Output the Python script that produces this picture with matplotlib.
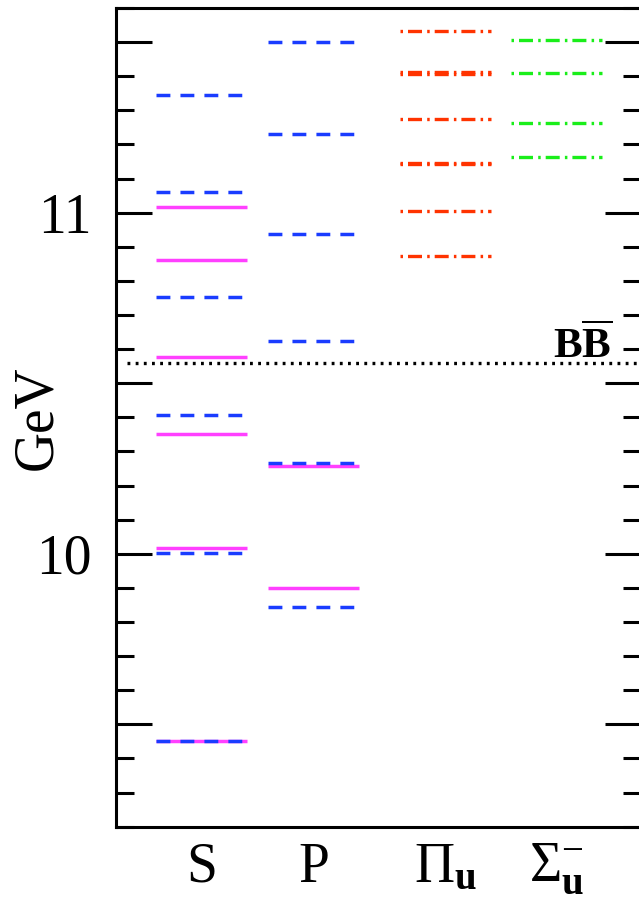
#Bottomonium level diagram: S and P wave levels plus hybrid (Pi_u, Sigma_u-) levels
import matplotlib
matplotlib.use('Agg')
import matplotlib.pyplot as plt
from matplotlib.ticker import MultipleLocator

###Level masses - GeV
#S wave, model (solid magenta)
s_model = [9.450, 10.018, 10.351, 10.576, 10.862, 11.018]
#S wave, blue dashed
s_dash = [9.450, 10.003, 10.406, 10.752, 11.060, 11.345]
#P wave, model (solid magenta)
p_model = [9.899, 10.258]
#P wave, blue dashed
p_dash = [9.843, 10.267, 10.623, 10.938, 11.230, 11.501]
#Hybrid Pi_u levels (two nearly degenerate pairs)
pi_u = [10.872, 11.005, 11.142, 11.146, 11.276, 11.407, 11.411, 11.534]
#Hybrid Sigma_u- levels
sigma_u = [11.162, 11.264, 11.409, 11.507]
#BB threshold
bb_threshold = 10.558

#Column labels and y tick labels
columns = ['S', 'P', r'$\Pi_{\mathbf{u}}$', r'$\Sigma_{\mathbf{u}}^{-}$']
major_ticks = [9.5, 10.0, 10.5, 11.0, 11.5]
major_labels = ['', '10', '', '11', '']

###Layout
col_x = [1.0, 2.0, 3.176, 4.17]
half_w = 0.406

plt.rcParams['font.family'] = ['Liberation Serif', 'DejaVu Serif']
plt.rcParams['mathtext.fontset'] = 'custom'
plt.rcParams['mathtext.rm'] = 'Liberation Serif'
plt.rcParams['mathtext.bf'] = 'Liberation Serif:bold'
plt.rcParams['mathtext.it'] = 'Liberation Serif:italic'

fig = plt.figure(figsize=(6.39, 9.01), dpi=100)
ax = fig.add_axes([0.1808, 0.0825, 0.8224, 0.9086])

blue = '#1a3cff'
magenta = '#ff40ff'
red = '#ff3300'
green = '#1aee1a'

dash_blue = (0, (4.0, 2.9))
dash_dot = (0, (0.75, 1.5, 4.2, 1.56))

def levels(x, vals, color, ls, lw):
    ax.hlines(vals, x - half_w, x + half_w, colors=color, linestyles=ls, linewidth=lw)

levels(col_x[0], s_model, magenta, 'solid', 2.5)
levels(col_x[0], s_dash, blue, dash_blue, 2.5)
levels(col_x[1], p_model, magenta, 'solid', 2.5)
levels(col_x[1], p_dash, blue, dash_blue, 2.5)
levels(col_x[2], pi_u, red, dash_dot, 2.4)
levels(col_x[3], sigma_u, green, dash_dot, 2.4)

#Threshold line
ax.axhline(bb_threshold, xmin=0.022, xmax=1, color='black', linewidth=2.4,
           linestyle=(0, (0.85, 1.6)))
ax.text(4.665, bb_threshold + 0.017, r'$\mathbf{B\overline{B}}$', fontsize=31,
        ha='right', va='baseline')

###Axes
ax.set_xlim(0.232, 4.924)
ax.set_ylim(9.2, 11.6)
ax.set_xticks(col_x, columns)
ax.tick_params(axis='x', length=0, pad=11, labelsize=40)
ax.set_yticks(major_ticks, major_labels)
ax.yaxis.set_minor_locator(MultipleLocator(0.1))
ax.tick_params(axis='y', which='both', direction='in', left=True, right=True,
               width=2.2, labelsize=40, pad=17)
ax.tick_params(axis='y', which='major', length=26)
ax.tick_params(axis='y', which='minor', length=13)
for sp in ax.spines.values():
    sp.set_linewidth(2.2)

ax.set_ylabel('GeV', fontsize=40)
ax.yaxis.set_label_coords(-0.10, 0.5)

fig.savefig('out.png', dpi=100)
